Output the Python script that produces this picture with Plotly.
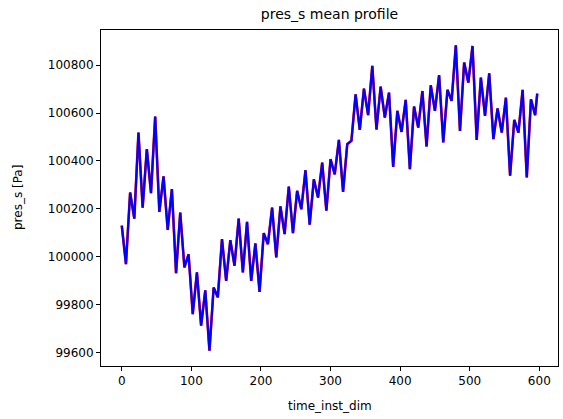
import plotly.graph_objects as go

# time index (step 6, last sample at 597)
time_inst_dim = list(range(0, 595, 6)) + [597]

pres_s = [
    100130, 99969, 100268, 100159, 100518, 100205, 100449, 100265, 100585, 100187,
    100335, 100112, 100282, 99931, 100184, 99955, 100010, 99760, 99934, 99712,
    99859, 99607, 99871, 99830, 100073, 99899, 100069, 99962, 100159, 99934,
    100145, 99899, 100055, 99853, 100098, 100052, 100205, 99997, 100210, 100094,
    100293, 100098, 100275, 100198, 100361, 100134, 100323, 100247, 100393, 100192,
    100407, 100344, 100488, 100271, 100470, 100484, 100678, 100530, 100702, 100591,
    100797, 100531, 100710, 100581, 100685, 100375, 100609, 100521, 100655, 100365,
    100627, 100539, 100692, 100460, 100716, 100609, 100758, 100477, 100697, 100651,
    100883, 100525, 100811, 100727, 100880, 100488, 100748, 100588, 100766, 100491,
    100619, 100518, 100664, 100338, 100571, 100518, 100697, 100331, 100657, 100591,
    100681,
]

x_ticks = [0, 100, 200, 300, 400, 500, 600]
y_ticks = [99600, 99800, 100000, 100200, 100400, 100600, 100800]

title_text = "pres_s mean profile"
x_title = "time_inst_dim"
y_title = "pres_s [Pa]"

FONT = "DejaVu Sans, sans-serif"

fig = go.Figure()
fig.add_trace(go.Scatter(x=time_inst_dim, y=pres_s, mode="lines",
                         line=dict(color="#ff0000", width=2.6), showlegend=False,
                         hoverinfo="skip"))
fig.add_trace(go.Scatter(x=time_inst_dim, y=pres_s, mode="lines",
                         line=dict(color="#0000ff", width=2.2), showlegend=False))

xmin, xmax = min(time_inst_dim), max(time_inst_dim)
ymin, ymax = min(pres_s), max(pres_s)
xpad = 0.05 * (xmax - xmin)
ypad = 0.05 * (ymax - ymin)

axis_common = dict(
    showgrid=False, zeroline=False, showline=True, linecolor="black",
    linewidth=1, mirror=True, ticks="outside", ticklen=4, tickwidth=1,
    tickcolor="black", tickfont=dict(family=FONT, size=12, color="black"),
)

fig.update_xaxes(range=[xmin - xpad, xmax + xpad], tickvals=x_ticks,
                 ticktext=[str(v) for v in x_ticks], **axis_common)
fig.update_yaxes(range=[ymin - ypad, ymax + ypad], tickvals=y_ticks,
                 ticktext=[str(v) for v in y_ticks], **axis_common)

L, R, T, B = 101, 5, 30, 53
W, H = 563, 419
ph = H - T - B
pw = W - L - R

fig.update_layout(
    width=W, height=H,
    margin=dict(l=L, r=R, t=T, b=B, pad=0),
    plot_bgcolor="white", paper_bgcolor="white",
    font=dict(family=FONT, size=12, color="black"),
    title=dict(text=title_text, x=(L + pw / 2) / W, xanchor="center",
               y=1 - 14 / H, yanchor="middle", yref="container",
               font=dict(family=FONT, size=14, color="black")),
    annotations=[
        dict(text=x_title, xref="paper", yref="paper", x=0.5,
             y=-(406 - (T + ph)) / ph, xanchor="center", yanchor="middle",
             showarrow=False, font=dict(family=FONT, size=12, color="black")),
        dict(text=y_title, xref="paper", yref="paper", x=-(L - 18) / pw,
             y=0.5, xanchor="center", yanchor="middle", textangle=-90,
             showarrow=False, font=dict(family=FONT, size=12, color="black")),
    ],
)

fig.write_html("out.html", config={"displayModeBar": False},
               post_script="document.body.style.margin='0';document.body.style.overflow='hidden';")
